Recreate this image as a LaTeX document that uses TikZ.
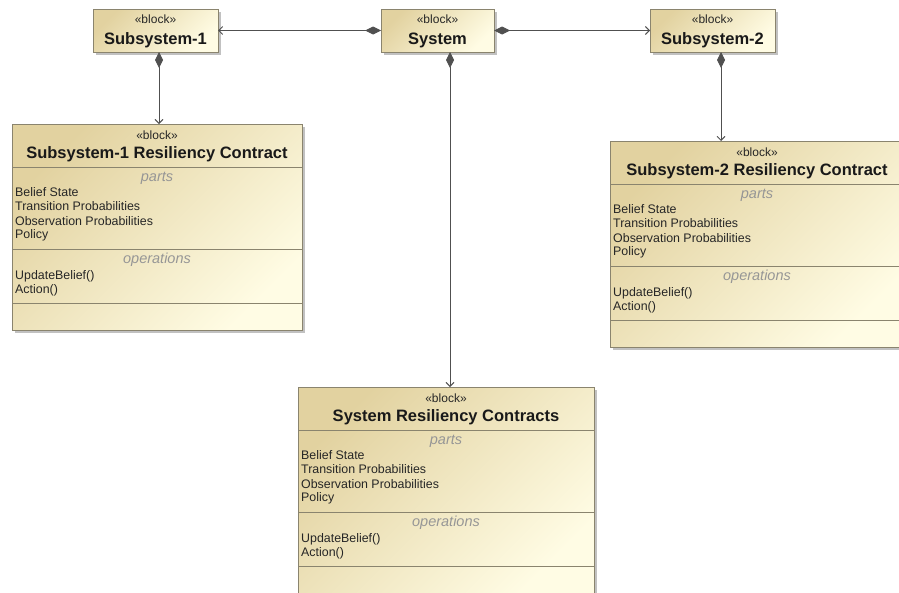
\documentclass[tikz,border=0pt]{standalone}
\usepackage{fontspec}
\setmainfont{Liberation Sans}
\usetikzlibrary{arrows.meta,shadows}
\definecolor{tanA}{RGB}{226,210,160}
\definecolor{tanB}{RGB}{255,252,228}
\definecolor{edgec}{RGB}{138,132,110}
\definecolor{wire}{RGB}{80,80,80}
\definecolor{itgray}{RGB}{150,150,150}
\newcommand\contractbox[5]{% name, left x, top y, width, title
 \begin{scope}[shift={(#2,#3)}]
  \node[blk, minimum width=#4pt, minimum height=206pt, anchor=north west] (#1) at (0,0) {};
  \node[ster] (#1-st) at (#4/2,11) {«block»};
  \node[ttl] (#1-tt) at (#4/2,30) {#5};
  \draw[sepl] (0,43) -- (#4,43);
  \node[cmp] (#1-pa) at (#4/2,54) {parts};
  \node[itm] (#1-i1) at (3,68) {Belief State};
  \node[itm] (#1-i2) at (3,82.5) {Transition Probabilities};
  \node[itm] (#1-i3) at (3,97) {Observation Probabilities};
  \node[itm] (#1-i4) at (3,111) {Policy};
  \draw[sepl] (0,125) -- (#4,125);
  \node[cmp] (#1-op) at (#4/2,136) {operations};
  \node[itm] (#1-o1) at (3,152) {UpdateBelief()};
  \node[itm] (#1-o2) at (3,166) {Action()};
  \draw[sepl] (0,179) -- (#4,179);
 \end{scope}}
\begin{document}
\begin{tikzpicture}[x=1pt,y=-1pt,
 blk/.style={draw=edgec, line width=0.8pt, shading=axis, top color=tanA, bottom color=tanB, shading angle=45,
   drop shadow={shadow xshift=2.5pt,shadow yshift=-2.5pt,fill=black!40,opacity=0.6}, inner sep=0pt, outer sep=0pt},
 ster/.style={font=\fontsize{12}{12}\selectfont, text=black!85, inner sep=0pt},
 ttl/.style={font=\fontsize{16.5}{16.5}\selectfont\bfseries, text=black!90, inner sep=0pt},
 cmp/.style={font=\fontsize{14.5}{14.5}\selectfont\itshape, text=itgray, inner sep=0pt},
 itm/.style={font=\fontsize{12.4}{12.4}\selectfont, text=black!85, inner sep=0pt, anchor=west},
 sepl/.style={draw=edgec, line width=0.8pt},
 comp/.style={draw=wire, line width=0.9pt, {Diamond[length=16pt,width=8pt,fill=wire]}-{Straight Barb[length=4pt,width=8pt]}}
]
\useasboundingbox (0,0) rectangle (899,592);
\fill[white] (0,0) rectangle (899,592);
\begin{scope}
\clip (0,0) rectangle (899,592);
% top blocks
\node[blk, minimum width=125pt, minimum height=43pt] (s1) at (155.5,30.5) {};
\node[ster] (s1-st) at (155.5,19) {«block»};
\node[ttl] (s1-tt) at (155.5,40) {Subsystem-1};
\node[blk, minimum width=113pt, minimum height=43pt] (sys) at (437.5,30.5) {};
\node[ster] (sys-st) at (437.5,19) {«block»};
\node[ttl] (sys-tt) at (437.5,40) {System};
\node[blk, minimum width=125pt, minimum height=43pt] (s2) at (712.5,30.5) {};
\node[ster] (s2-st) at (712.5,19) {«block»};
\node[ttl] (s2-tt) at (712.5,40) {Subsystem-2};
% contract blocks
\contractbox{c1}{12}{124}{290}{Subsystem-1 Resiliency Contract}
\contractbox{c2}{610}{141}{294}{Subsystem-2 Resiliency Contract}
\contractbox{c3}{298}{387}{296}{System Resiliency Contracts}
% connectors
\draw[comp] (sys.west) -- (s1.east);
\draw[comp] (sys.east) -- (s2.west);
\draw[comp] (s1.south -| 159,0) -- (c1.north -| 159,0);
\draw[comp] (sys.south -| 450,0) -- (c3.north -| 450,0);
\draw[comp] (s2.south -| 721,0) -- (c2.north -| 721,0);
\end{scope}
\end{tikzpicture}
\end{document}
